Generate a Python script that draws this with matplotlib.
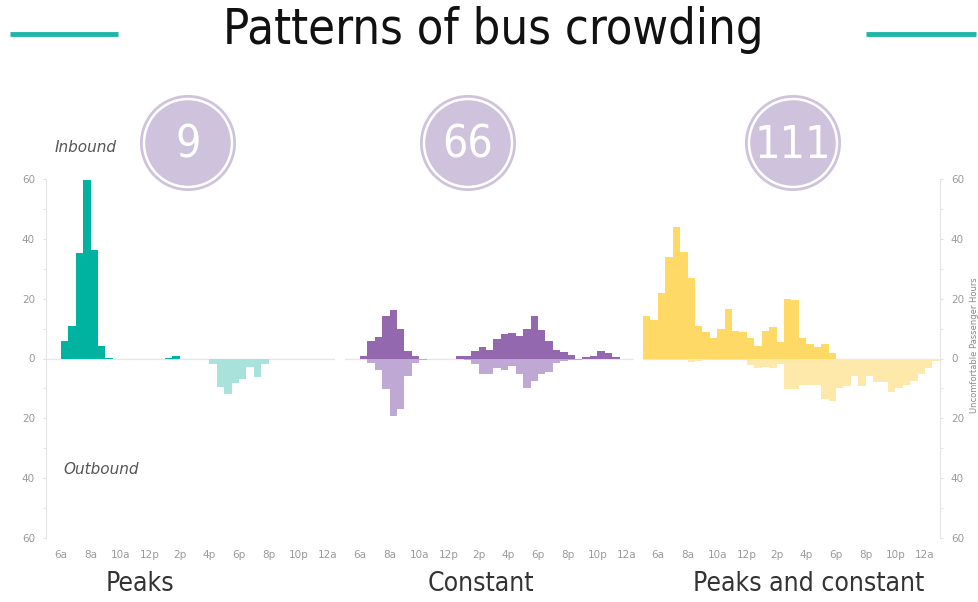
import matplotlib
matplotlib.use("Agg")
import matplotlib.pyplot as plt
from matplotlib.patches import Circle
from matplotlib.ticker import MultipleLocator, FuncFormatter
import numpy as np

# half-hour bins starting 5:00
bin_start = np.arange(5, 25, 0.5)

peaks_in = [0, 0, 6, 11, 35.4, 59.7, 36.3, 4.1, 0.2, 0,
            0, 0, 0, 0, 0, 0, 0.2, 1.0, 0, 0,
            0, 0, 0, 0, 0, 0, 0, 0, 0, 0,
            0, 0, 0, 0, 0, 0, 0, 0, 0, 0]
peaks_out = [0, 0, 0, 0, 0, 0, 0, 0, 0, 0,
             0, 0, 0, 0, 0, 0, 0, 0, 0, 0,
             0, 0.3, 2, 9.6, 11.7, 8.1, 6.7, 2.8, 6.1, 1.7,
             0.3, 0, 0, 0, 0, 0, 0, 0, 0, 0]
const_in = [0, 0, 0.8, 5.8, 7.2, 14.3, 16.1, 9.9, 2.4, 0.8,
            0, 0, 0, 0, 0, 1, 0.8, 2.4, 3.9, 3,
            6.6, 8.3, 8.6, 7.4, 9.9, 14.3, 9.4, 5.8, 3, 2.1,
            1.3, 0, 0.6, 0.8, 2.4, 1.7, 0.4, 0, 0, 0]
const_out = [0, 0, 0, 1.4, 3.7, 10.1, 19.2, 17, 5.9, 1.4,
             0.5, 0.3, 0, 0, 0, 0.3, 0.5, 1.7, 5.3, 5.3,
             3.1, 3.9, 2.6, 5.3, 9.8, 7.6, 5.3, 4.6, 1.4, 0.7,
             0.4, 0.5, 0, 0, 0, 0, 0, 0, 0, 0]
mixed_in = [14.2, 13, 22, 34, 44, 35.7, 27, 10.9, 8.9, 6.7,
            10, 16.4, 9.2, 8.7, 6.7, 4.2, 9.2, 10.5, 5.6, 20,
            19.6, 6.7, 4.8, 3.7, 4.8, 1.8, 0, 0, 0, 0,
            0, 0, 0, 0, 0, 0, 0, 0, 0, 0]
mixed_out = [0, 0, 0, 0, 0, 0, 1.3, 1, 0.5, 0,
             0, 0, 0, 0, 2.1, 3.3, 3, 3.2, 2, 10.1,
             10.1, 9, 8.7, 8.7, 13.7, 14.2, 9.7, 9.1, 5.9, 9.2,
             5.9, 7.9, 7.9, 11.2, 10, 8.7, 7.6, 5.3, 3.1, 0.9]

tick_hours = [6, 8, 10, 12, 14, 16, 18, 20, 22, 24]
tick_names = ["6a", "8a", "10a", "12p", "2p", "4p", "6p", "8p", "10p", "12a"]
panel_titles = ["Peaks", "Constant", "Peaks and constant"]
panel_counts = ["9", "66", "111"]

teal, teal_l = "#00b2a0", "#a9e1db"
purp, purp_l = "#9468ae", "#c0a8d4"
yell, yell_l = "#ffd966", "#ffe9aa"

W, H = 979, 602
fig = plt.figure(figsize=(W / 100, H / 100), dpi=100)

def step_fill(ax, vals, sign, color):
    # one polygon per series, so adjacent bins have no seams
    x = np.append(bin_start, bin_start[-1] + 0.5)
    y = np.append(vals, vals[-1]) * sign
    ax.fill_between(x, 0, y, step="post", color=color, lw=0, zorder=2)

def add_panel(x0, xmax, inb, outb, c_in, c_out):
    width = (xmax - 5) * 14.84
    ax = fig.add_axes([x0 / W, 64 / H, width / W, 359 / H])
    ax.axhline(0, color="#e6e6e6", lw=1, zorder=1)
    step_fill(ax, inb, 1, c_in)
    step_fill(ax, outb, -1, c_out)
    ax.set_xlim(5, xmax)
    ax.set_ylim(-60, 60)
    ax.set_xticks(tick_hours)
    ax.set_xticklabels(tick_names)
    ax.tick_params(axis="x", length=0, pad=9, labelsize=7.5, labelcolor="#9a9a9a")
    for s in ax.spines.values():
        s.set_visible(False)
    ax.set_yticks([])
    ax.patch.set_visible(False)
    return ax

def style_y(ax, side):
    ax.spines[side].set_visible(True)
    ax.spines[side].set_color("#e6e6e6")
    ax.yaxis.set_major_locator(MultipleLocator(20))
    ax.yaxis.set_minor_locator(MultipleLocator(10))
    ax.yaxis.set_major_formatter(FuncFormatter(lambda v, p: "%d" % abs(v)))
    ax.yaxis.set_ticks_position(side)
    ax.tick_params(axis="y", which="both", length=2, color="#e0e0e0",
                   labelsize=7.5, labelcolor="#9a9a9a", pad=6)

ax1 = add_panel(46, 24.5, peaks_in, peaks_out, teal, teal_l)
ax2 = add_panel(345, 24.5, const_in, const_out, purp, purp_l)
ax3 = add_panel(643, 25.0, mixed_in, mixed_out, yell, yell_l)
style_y(ax1, "left")
style_y(ax3, "right")

# overlay in pixel coordinates for title, circles and labels
ov = fig.add_axes([0, 0, 1, 1])
ov.set_xlim(0, W)
ov.set_ylim(H, 0)
ov.axis("off")

ov.text(493, 30, "Patterns of bus crowding", ha="center", va="center",
        fontsize=35, family="DejaVu Sans", stretch="condensed", color="#111111")
ov.plot([10, 118], [34, 34], color="#1fb5a8", lw=3.5, solid_capstyle="butt")
ov.plot([866, 976], [34, 34], color="#1fb5a8", lw=3.5, solid_capstyle="butt")

for cx, num in zip([188, 468, 793], panel_counts):
    ov.add_patch(Circle((cx, 143), 48, facecolor="#cfc2dd", edgecolor="none"))
    ov.add_patch(Circle((cx, 143), 44, facecolor="none", edgecolor="white", lw=1.8))
    ov.text(cx, 145, num, ha="center", va="center", fontsize=32,
            family="DejaVu Sans", stretch="condensed", color="white")

for cx, name in zip([140, 481, 809], panel_titles):
    ov.text(cx, 584, name, ha="center", va="center", fontsize=19,
            family="DejaVu Sans", stretch="condensed", color="#333333")

ov.text(55, 148, "Inbound", ha="left", va="center", fontsize=11,
        style="italic", color="#555555")
ov.text(63, 470, "Outbound", ha="left", va="center", fontsize=11,
        style="italic", color="#555555")
ov.text(975, 345, "Uncomfortable Passenger Hours", ha="center", va="center",
        rotation=90, fontsize=6, color="#888888")

fig.savefig("out.png", dpi=100)
